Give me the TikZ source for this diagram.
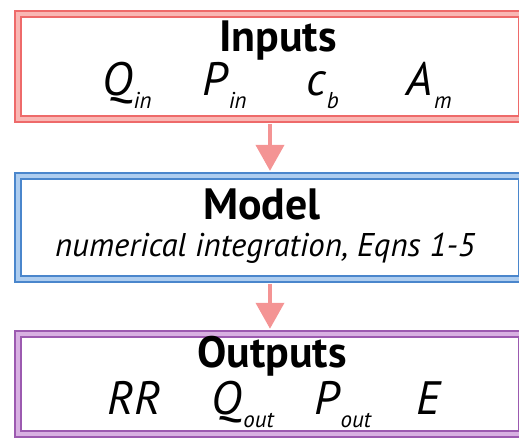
\documentclass[tikz,border=0pt]{standalone}
\usepackage{fontspec}
\setmainfont{PT Sans}
\usetikzlibrary{arrows.meta}
\definecolor{inred}{HTML}{EE6A6A}
\definecolor{inredlight}{HTML}{F9B7B4}
\definecolor{modblue}{HTML}{4A86CC}
\definecolor{modbluelight}{HTML}{AECDEF}
\definecolor{outpurple}{HTML}{9C5AB0}
\definecolor{outpurplelight}{HTML}{D8B0E2}
\definecolor{flowred}{HTML}{F49494}
\newcommand{\varsub}[2]{#1\kern1bp\raisebox{-13bp}{\fontsize{23}{23}\selectfont #2}}
\begin{document}
\begin{tikzpicture}[
	box/.style={draw=#1, line width=2bp, double distance=4bp, minimum width=17.78cm, inner sep=0pt},
	flow/.style={line width=4bp, draw=flowred, -{Triangle[width=28bp, length=26bp, fill=flowred]}, shorten <=4bp, shorten >=4bp},
	title/.style={anchor=base, inner sep=0pt, font=\fontsize{44}{44}\bfseries},
	var/.style={anchor=base west, inner sep=0pt, font=\fontsize{47}{47}\itshape},
]
	\useasboundingbox (0,0) rectangle (18.31,15.52);
	
	\node[box=inred, double=inredlight, minimum height=3.70cm] (inputs) at (9.525,13.18) {};%Eingaben
	\node[box=modblue, double=modbluelight, minimum height=3.63cm] (model) at (9.525,7.50) {};%Modell
	\node[box=outpurple, double=outpurplelight, minimum height=3.53cm] (outputs) at (9.525,1.98) {};%Ausgaben
	
	\draw[flow] (inputs.south) -- (model.north);
	\draw[flow] (model.south) -- (outputs.north);
	
	\node[title] (intitle) at (9.81,13.70) {Inputs};
	\node[var] (qin) at (3.60,12.14) {\varsub{Q}{in}};
	\node[var] (pin) at (7.15,12.14) {\varsub{P}{in}};
	\node[var] (cb) at (10.80,12.14) {\varsub{c}{b}};
	\node[var] (am) at (14.35,12.14) {\varsub{A}{m}};
	
	\node[title] (modtitle) at (9.24,7.76) {Model};
	\node[anchor=base, inner sep=0pt, font=\fontsize{33}{33}\itshape] (modtext) at (9.35,6.46) {numerical integration, Eqns 1-5};
	
	\node[title] (outtitle) at (9.60,2.55) {Outputs};
	\node[var] (rr) at (3.80,0.90) {RR};
	\node[var] (qout) at (7.47,0.90) {\varsub{Q}{out}};
	\node[var] (pout) at (11.10,0.90) {\varsub{P}{out}};
	\node[var] (e) at (14.70,0.90) {E};
\end{tikzpicture}
\end{document}
